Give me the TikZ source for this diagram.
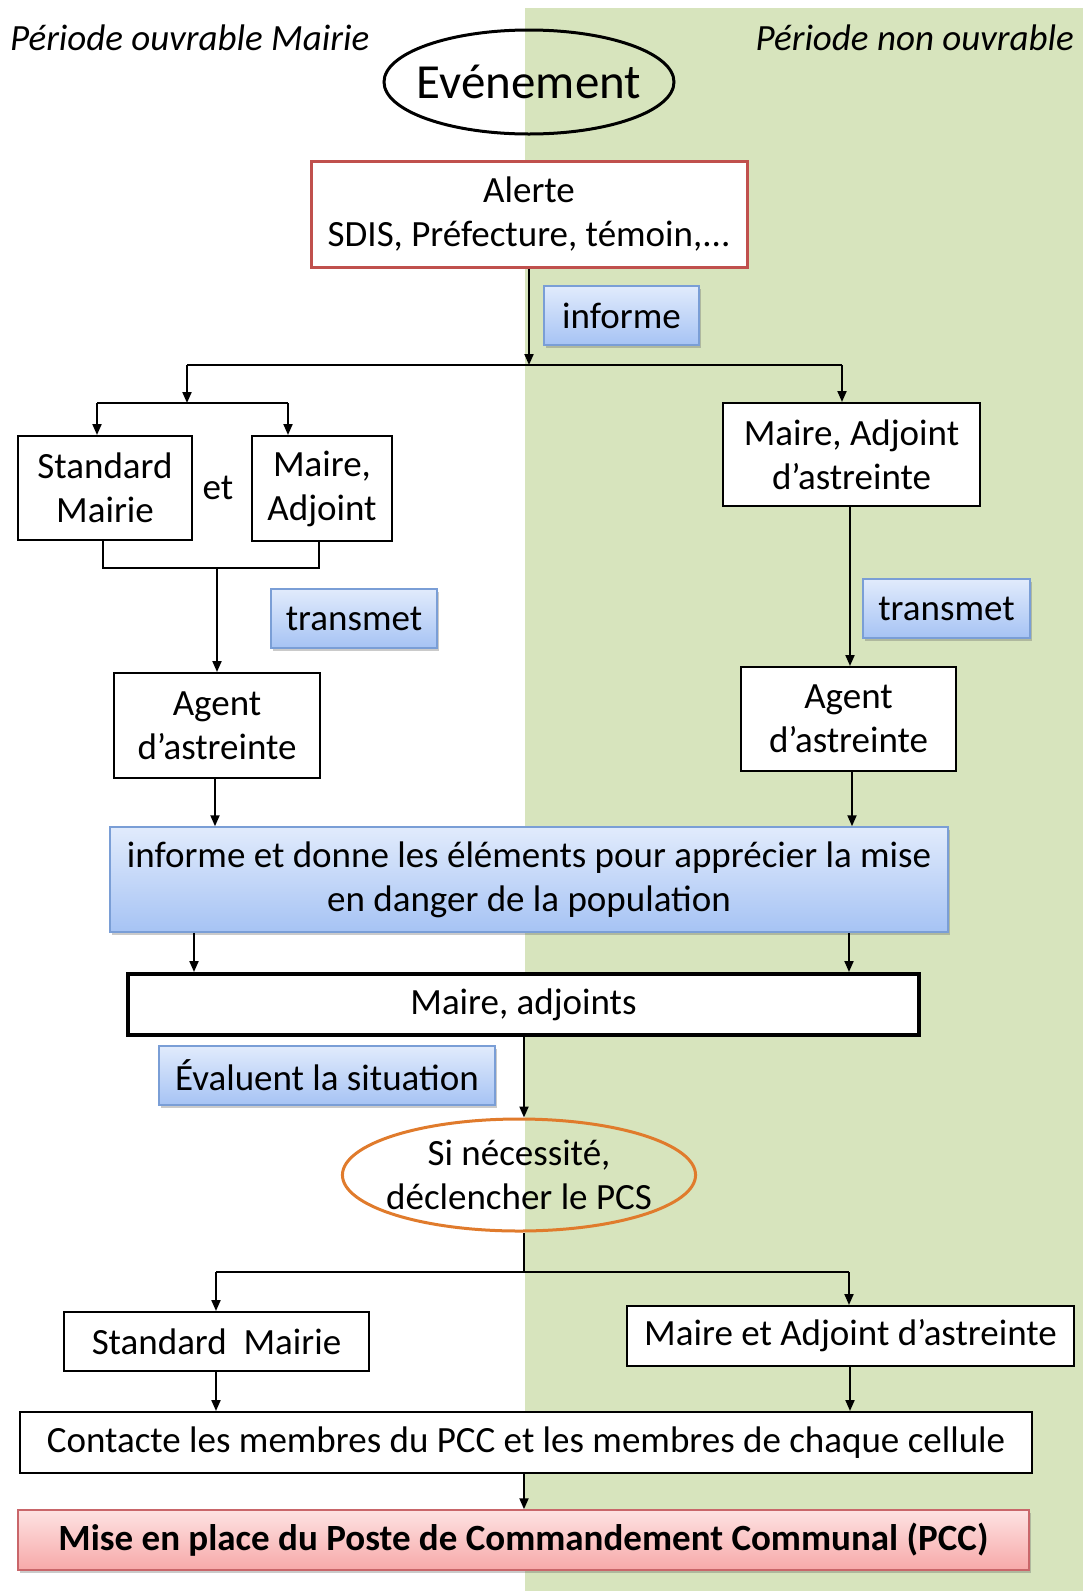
\documentclass[tikz,border=0pt]{standalone}
\usepackage{fontspec}
\setmainfont{Carlito}
\usetikzlibrary{shapes.geometric,arrows.meta,shadows}

\definecolor{greenbg}{HTML}{D7E4BD}
\definecolor{bluetop}{HTML}{E1EBFC}
\definecolor{bluebot}{HTML}{A6C3F4}
\definecolor{blueedge}{HTML}{7A9ED6}
\definecolor{pinktop}{HTML}{FDE2E2}
\definecolor{pinkbot}{HTML}{F7A9A9}
\definecolor{pinkedge}{HTML}{C9666A}
\definecolor{alertred}{HTML}{C0504D}
\definecolor{orangeedge}{HTML}{E07B2C}

\tikzset{
  txt/.style={font=\fontsize{37}{44}\selectfont, align=center, inner sep=0pt},
  box/.style={txt, draw=black, line width=2pt, fill=white, rectangle},
  actbox/.style={txt, rectangle, draw=blueedge, line width=1.5pt,
    top color=bluetop, bottom color=bluebot,
    drop shadow={shadow xshift=2pt, shadow yshift=-3pt, opacity=0.35, fill=black!60}},
  link/.style={line width=2pt, draw=black},
  arr/.style={link, -{Triangle[length=11pt,width=9pt]}},
}

\begin{document}
\begin{tikzpicture}[x=1pt,y=-1pt]
  \useasboundingbox (0,0) rectangle (1083,1591);
  % shaded half: non-working period
  \fill[greenbg] (525,8) rectangle (1083,1591);

  % column headings
  \node[txt, anchor=west, font=\fontsize{37}{44}\selectfont\itshape] (hdrL) at (10,38) {Période ouvrable Mairie};
  \node[txt, anchor=east, font=\fontsize{37}{44}\selectfont\itshape] (hdrR) at (1074,38) {Période non ouvrable};

  % top of the chain
  \node[txt, ellipse, draw=black, line width=3pt, inner xsep=-12pt, minimum width=290, minimum height=104,
        font=\fontsize{49}{56}\selectfont] (evt) at (529,82) {Evénement};
  \node[box, draw=alertred, line width=3pt, minimum width=436, minimum height=106] (alerte) at (529,214)
    {Alerte\\SDIS, Préfecture, témoin,...};
  \node[actbox, minimum width=155, minimum height=59] (informe) at (621.5,315.5) {informe};

  % working period branch
  \node[box, minimum width=174, minimum height=104] (stdm) at (105,488) {Standard\\Mairie};
  \node[txt] (et) at (218,488) {et};
  \node[box, minimum width=140, minimum height=105] (maireadj) at (322,488.5) {Maire,\\Adjoint};
  \node[actbox, minimum width=166, minimum height=59] (transL) at (354,618.5) {transmet};
  \node[box, minimum width=206, minimum height=105] (agentL) at (217,725.5) {Agent\\d’astreinte};

  % non-working period branch
  \node[box, minimum width=257, minimum height=103] (mairedastr) at (851.5,454.5) {Maire, Adjoint\\d’astreinte};
  \node[actbox, minimum width=167, minimum height=59] (transR) at (946.5,608.5) {transmet};
  \node[box, minimum width=215, minimum height=104] (agentR) at (848.5,719) {Agent\\d’astreinte};

  % common part
  \node[actbox, minimum width=838, minimum height=105] (infobig) at (529,879.5)
    {informe et donne les éléments pour apprécier la mise\\en danger de la population};
  \node[box, line width=4pt, minimum width=791, minimum height=61] (maireadjs) at (523.5,1004.5) {Maire, adjoints};
  \node[actbox, minimum width=336, minimum height=59] (evalue) at (327,1075.5) {Évaluent la situation};
  \node[txt, ellipse, draw=orangeedge, line width=3pt, inner xsep=-8pt, minimum width=350, minimum height=112] (sinec) at (519,1175)
    {Si nécessité,\\déclencher le PCS};

  \node[box, minimum width=305, minimum height=59] (stdm2) at (216.5,1341.5) {Standard~ Mairie};
  \node[box, minimum width=447, minimum height=60] (maireet) at (850.5,1336) {Maire et Adjoint d’astreinte};
  \node[box, minimum width=1012, minimum height=61] (contacte) at (526,1442.5)
    {Contacte les membres du PCC et les membres de chaque cellule};
  \node[txt, rectangle, draw=pinkedge, line width=1.5pt, top color=pinktop, bottom color=pinkbot,
        minimum width=1011, minimum height=60, font=\fontsize{37}{44}\selectfont\bfseries,
        drop shadow={shadow xshift=2pt, shadow yshift=-3pt, opacity=0.35, fill=black!60}]
        (mise) at (523.5,1540) {Mise en place du Poste de Commandement Communal (PCC)};

  % junction points
  \coordinate (j1) at (529,365);
  \coordinate (j1L) at (187,365);
  \coordinate (j1R) at (842,365);
  \coordinate (j2) at (187,403);
  \coordinate (j2L) at (97,403);
  \coordinate (j2R) at (288,403);
  \coordinate (b1) at (103,568);
  \coordinate (b2) at (319,568);
  \coordinate (bm) at (217,568);
  \coordinate (j3) at (524,1272);
  \coordinate (j3L) at (216,1272);
  \coordinate (j3R) at (849,1272);

  % connectors
  \draw[arr] (alerte.south) -- (j1);
  \draw[link] (j1L) -- (j1R);
  \draw[arr] (j1L) -- (j2);
  \draw[arr] (j1R) -- (j1R |- mairedastr.north);
  \draw[link] (j2L) -- (j2R);
  \draw[arr] (j2L) -- (j2L |- stdm.north);
  \draw[arr] (j2R) -- (j2R |- maireadj.north);
  \draw[link] (b1 |- stdm.south) -- (b1) -- (b2) -- (b2 |- maireadj.south);
  \draw[arr] (bm) -- (bm |- agentL.north);
  \draw[arr] (850,0 |- mairedastr.south) -- (850,0 |- agentR.north);
  \draw[arr] (215,0 |- agentL.south) -- (215,0 |- infobig.north);
  \draw[arr] (852,0 |- agentR.south) -- (852,0 |- infobig.north);
  \draw[arr] (194,0 |- infobig.south) -- (194,0 |- maireadjs.north);
  \draw[arr] (849,0 |- infobig.south) -- (849,0 |- maireadjs.north);
  \draw[arr] (524,0 |- maireadjs.south) -- (524,0 |- sinec.north);
  \draw[link] (524,0 |- sinec.south) -- (j3);
  \draw[link] (j3L) -- (j3R);
  \draw[arr] (j3L) -- (j3L |- stdm2.north);
  \draw[arr] (j3R) -- (j3R |- maireet.north);
  \draw[arr] (216,0 |- stdm2.south) -- (216,0 |- contacte.north);
  \draw[arr] (850,0 |- maireet.south) -- (850,0 |- contacte.north);
  \draw[arr] (524,0 |- contacte.south) -- (524,0 |- mise.north);
\end{tikzpicture}
\end{document}
